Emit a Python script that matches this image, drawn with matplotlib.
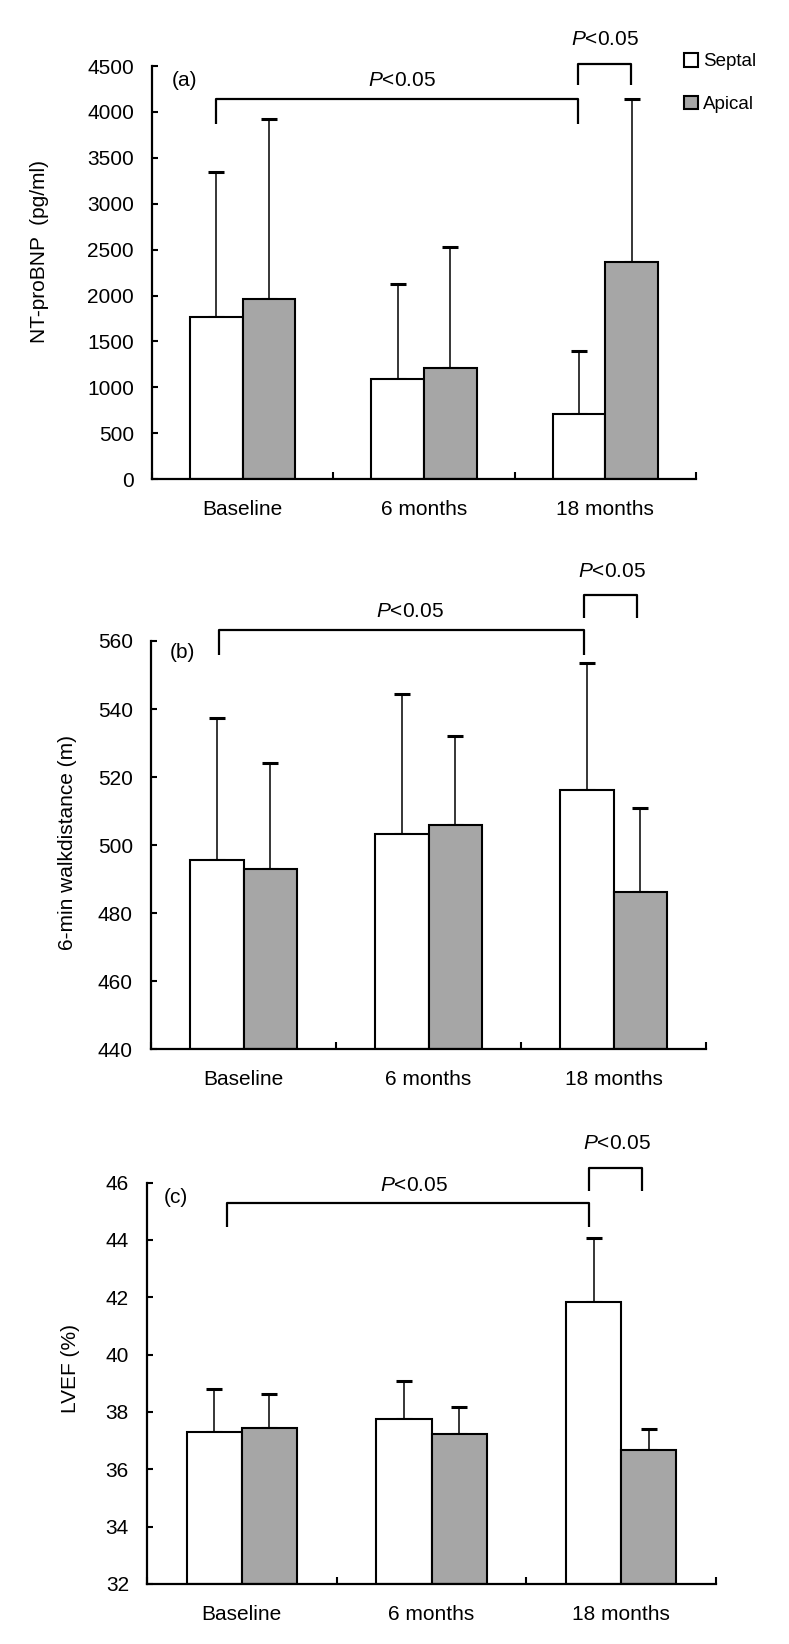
import numpy as np
import matplotlib
matplotlib.use("Agg")
import matplotlib.pyplot as plt
from matplotlib.patches import Patch

plt.rcParams['font.family'] = ['Liberation Sans', 'DejaVu Sans']
plt.rcParams['mathtext.fontset'] = 'custom'
plt.rcParams['mathtext.it'] = 'Liberation Sans:italic'
plt.rcParams['mathtext.rm'] = 'Liberation Sans'

groups = ['Baseline', '6 months', '18 months']
series = ['Septal', 'Apical']

# (a) NT-proBNP
bnp_septal = [1770, 1095, 710]
bnp_septal_top = [3350, 2125, 1395]
bnp_apical = [1965, 1205, 2370]
bnp_apical_top = [3925, 2530, 4145]

# (b) 6-min walk distance
walk_septal = [495.5, 503.2, 516.3]
walk_septal_top = [537.3, 544.4, 553.6]
walk_apical = [492.8, 505.8, 486.3]
walk_apical_top = [524.1, 532.0, 511.0]

# (c) LVEF
lvef_septal = [37.30, 37.75, 41.83]
lvef_septal_top = [38.79, 39.09, 44.06]
lvef_apical = [37.45, 37.23, 36.68]
lvef_apical_top = [38.61, 38.16, 37.39]

w = 0.29
grey = '#a6a6a6'
fs = 15


def sig_bracket(ax, x0, x1, top, bottom):
    ax.plot([x0, x0, x1, x1], [bottom, top, top, bottom], color='black',
            lw=1.6, clip_on=False, solid_capstyle='butt', zorder=5)


def panel(rect, sep, sep_top, api, api_top, ylim, yticks, ylabel, ylab_pos,
          tag, tag_pos, long_br, short_br, long_txt, short_txt):
    ax = fig.add_axes(rect)
    x = np.arange(len(groups))
    xs = x - w / 2
    xa = x + w / 2
    ax.bar(xs, np.array(sep) - ylim[0], w, bottom=ylim[0], color='white',
           edgecolor='black', linewidth=1.5, zorder=2)
    ax.bar(xa, np.array(api) - ylim[0], w, bottom=ylim[0], color=grey,
           edgecolor='black', linewidth=1.5, zorder=2)
    for xx, m, t in [(xs, sep, sep_top), (xa, api, api_top)]:
        m = np.array(m)
        t = np.array(t)
        ax.errorbar(xx, m, yerr=[np.zeros_like(m), t - m], fmt='none',
                    ecolor='black', elinewidth=1.1, capsize=5.5, capthick=2.2,
                    zorder=1, clip_on=False)
    ax.set_xlim(-0.5, 2.5)
    ax.set_ylim(*ylim)
    ax.set_yticks(yticks)
    ax.set_xticks(x)
    ax.set_xticklabels(groups)
    ax.set_xticks([-0.5, 0.5, 1.5, 2.5], minor=True)
    ax.tick_params(axis='x', which='major', length=0, pad=15, labelsize=fs)
    ax.tick_params(axis='x', which='minor', direction='in', length=5, width=1.5)
    ax.tick_params(axis='y', direction='in', length=4, width=1.5, pad=13,
                   labelsize=fs)
    for s in ['top', 'right']:
        ax.spines[s].set_visible(False)
    for s in ['left', 'bottom']:
        ax.spines[s].set_linewidth(1.6)
    ax.set_ylabel(ylabel, fontsize=fs)
    ax.yaxis.set_label_coords(*ylab_pos)
    ax.text(tag_pos[0], tag_pos[1], tag, transform=ax.transAxes, fontsize=fs,
            ha='left', va='center')
    sig_bracket(ax, *long_br)
    sig_bracket(ax, *short_br)
    ax.text(long_txt[0], long_txt[1], r'$\mathit{P}$<0.05', fontsize=fs,
            ha='center', va='center')
    ax.text(short_txt[0], short_txt[1], r'$\mathit{P}$<0.05', fontsize=fs,
            ha='center', va='center')
    return ax


fig = plt.figure(figsize=(7.89, 16.44), dpi=100)

panel([0.1926, 0.7086, 0.6895, 0.2512], bnp_septal, bnp_septal_top,
      bnp_apical, bnp_apical_top, (0, 4500), np.arange(0, 4501, 500),
      'NT-proBNP  (pg/ml)', (-0.189, 0.552), '(a)', (0.037, 0.966),
      (-0.145, 1.85, 4137, 3865), (1.85, 2.14, 4525, 4290),
      (0.88, 4344), (2.0, 4787))

panel([0.1914, 0.3619, 0.7034, 0.2482], walk_septal, walk_septal_top,
      walk_apical, walk_apical_top, (440, 560), np.arange(440, 561, 20),
      '6-min walkdistance (m)', (-0.133, 0.505), '(b)', (0.034, 0.971),
      (-0.13, 1.84, 563.1, 556.0), (1.84, 2.125, 573.6, 566.8),
      (0.90, 568.7), (1.99, 580.3))

panel([0.1863, 0.0365, 0.7212, 0.2442], lvef_septal, lvef_septal_top,
      lvef_apical, lvef_apical_top, (32, 46), np.arange(32, 47, 2),
      'LVEF (%)', (-0.118, 0.537), '(c)', (0.030, 0.963),
      (-0.08, 1.83, 45.27, 44.45), (1.83, 2.11, 46.51, 45.70),
      (0.91, 45.9), (1.98, 47.37))

handles = [Patch(facecolor='white', edgecolor='black', linewidth=1.5),
           Patch(facecolor=grey, edgecolor='black', linewidth=1.5)]
fig.legend(handles, series, loc='upper left', bbox_to_anchor=(0.845, 0.978),
           frameon=False, handlelength=0.75, handleheight=0.75,
           handletextpad=0.3, labelspacing=1.35, fontsize=13.5)

fig.savefig('out.png', dpi=100)
